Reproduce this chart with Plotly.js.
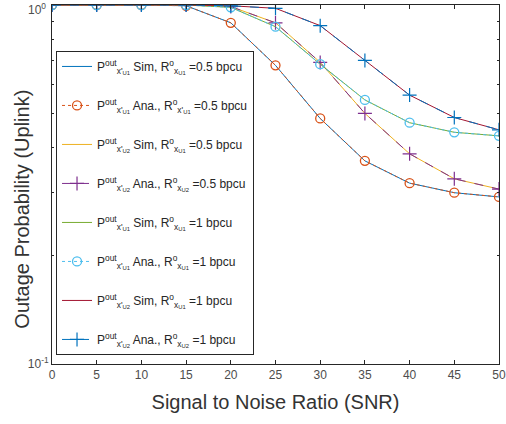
<!DOCTYPE html>
<html>
<head>
<script src="https://cdn.plot.ly/plotly-3.0.1.min.js"></script>
<style>html,body{margin:0;padding:0;background:#fff;}#chart{width:506px;height:424px;}</style>
</head>
<body>
<div id="chart"></div>
<script>
const snr = [0, 5, 10, 15, 20, 25, 30, 35, 40, 45, 50];
const u1Rate05 = [1, 1, 1, 0.995, 0.892, 0.679, 0.483, 0.368, 0.319, 0.300, 0.292];
const u2Rate05 = [1, 1, 1, 1, 0.99, 0.892, 0.692, 0.499, 0.385, 0.328, 0.307];
const u1Rate1 = [1, 1, 1, 1, 0.985, 0.87, 0.684, 0.544, 0.470, 0.442, 0.432];
const u2Rate1 = [1, 1, 1, 1, 0.995, 0.979, 0.876, 0.701, 0.561, 0.486, 0.449];
const legendNames = [
  "P<sup>out</sup><sub>x'<sub>U1</sub></sub> Sim, R<sup>o</sup><sub>x<sub>U1</sub></sub> =0.5 bpcu",
  "P<sup>out</sup><sub>x'<sub>U1</sub></sub> Ana., R<sup>o</sup><sub>x'<sub>U1</sub></sub> =0.5 bpcu",
  "P<sup>out</sup><sub>x'<sub>U2</sub></sub> Sim, R<sup>o</sup><sub>x<sub>U1</sub></sub> =0.5 bpcu",
  "P<sup>out</sup><sub>x'<sub>U2</sub></sub> Ana., R<sup>o</sup><sub>x<sub>U2</sub></sub> =0.5 bpcu",
  "P<sup>out</sup><sub>x'<sub>U1</sub></sub> Sim, R<sup>o</sup><sub>x<sub>U1</sub></sub> =1 bpcu",
  "P<sup>out</sup><sub>x'<sub>U1</sub></sub> Ana., R<sup>o</sup><sub>x<sub>U1</sub></sub> =1 bpcu",
  "P<sup>out</sup><sub>x'<sub>U2</sub></sub> Sim, R<sup>o</sup><sub>x<sub>U1</sub></sub> =1 bpcu",
  "P<sup>out</sup><sub>x'<sub>U2</sub></sub> Ana., R<sup>o</sup><sub>x<sub>U2</sub></sub> =1 bpcu"
];
const xTitle = 'Signal to Noise Ratio (SNR)';
const yTitle = 'Outage Probability (Uplink)';
const yTickVals = [0.1, 1];
const yTickText = ["10<sup>-1</sup>", ""];
const yTopLabel = "10<sup>0</sup>";
const yMinorVals = [0.2, 0.3, 0.4, 0.5, 0.6, 0.7, 0.8, 0.9];

const traces = [
  {x: snr, y: u1Rate05, name: legendNames[0], mode: 'lines', line: {color: '#0072BD', width: 1}},
  {x: snr, y: u1Rate05, name: legendNames[1], mode: 'lines+markers', line: {color: '#D95319', width: 1, dash: 'dot'},
    marker: {symbol: 'circle-open', size: 9, color: '#D95319', line: {width: 1.3}}},
  {x: snr, y: u2Rate05, name: legendNames[2], mode: 'lines', line: {color: '#EDB120', width: 1}},
  {x: snr, y: u2Rate05, name: legendNames[3], mode: 'lines+markers', line: {color: '#7E2F8E', width: 1, dash: 'dash'},
    marker: {symbol: 'cross-thin-open', size: 10, color: '#7E2F8E', line: {width: 1.2, color: '#7E2F8E'}}},
  {x: snr, y: u1Rate1, name: legendNames[4], mode: 'lines', line: {color: '#77AC30', width: 1}},
  {x: snr, y: u1Rate1, name: legendNames[5], mode: 'lines+markers', line: {color: '#4DBEEE', width: 1, dash: 'dot'},
    marker: {symbol: 'circle-open', size: 9, color: '#4DBEEE', line: {width: 1.3}}},
  {x: snr, y: u2Rate1, name: legendNames[6], mode: 'lines', line: {color: '#A2142F', width: 1}},
  {x: snr, y: u2Rate1, name: legendNames[7], mode: 'lines+markers', line: {color: '#0072BD', width: 1, dash: 'dash'},
    marker: {symbol: 'cross-thin-open', size: 10, color: '#0072BD', line: {width: 1.2, color: '#0072BD'}}}
];
traces.forEach((t, i) => { t.legendgroup = 'g' + i; });

const layout = {
  width: 506, height: 424,
  margin: {l: 52, r: 7, t: 5, b: 60},
  paper_bgcolor: '#fff', plot_bgcolor: '#fff',
  font: {family: 'Liberation Sans, Arial, sans-serif', color: '#262626'},
  showlegend: true,
  legend: {x: 0.009, y: 0.872, xanchor: 'left', yanchor: 'top', bgcolor: '#fff', bordercolor: '#262626', borderwidth: 1,
    font: {size: 12, color: '#262626'}, itemwidth: 30, tracegroupgap: 20, valign: 'middle'},
  annotations: [
    {text: yTopLabel, xref: 'paper', yref: 'y', x: 0, y: 0, xanchor: 'right', yanchor: 'top',
      xshift: -4, yshift: 6, showarrow: false, font: {size: 12, color: '#4d4d4d'}},
    {text: yTitle, xref: 'paper', yref: 'paper', x: -0.067, y: 0.43, xanchor: 'center', yanchor: 'middle',
      textangle: -90, showarrow: false, font: {size: 20, color: '#333333'}}
  ],
  xaxis: {
    range: [0, 50], tickmode: 'array', tickvals: [0,5,10,15,20,25,30,35,40,45,50],
    ticks: 'inside', ticklen: 4, tickcolor: '#262626', showgrid: false, zeroline: false,
    showline: true, linecolor: '#262626', linewidth: 1, mirror: 'ticks',
    tickfont: {size: 12, color: '#4d4d4d'}, ticklabeloverflow: 'allow',
    title: {text: xTitle, font: {size: 20, color: '#333333'}, standoff: 13}
  },
  yaxis: {
    type: 'log', range: [-1, 0], tickmode: 'array', tickvals: yTickVals, ticktext: yTickText,
    ticks: 'inside', ticklen: 4, tickcolor: '#262626', showgrid: false, zeroline: false,
    showline: true, linecolor: '#262626', linewidth: 1, mirror: 'ticks',
    tickfont: {size: 12, color: '#4d4d4d'}, ticklabeloverflow: 'allow',
    minor: {tickmode: 'array', tickvals: yMinorVals, ticks: 'inside', ticklen: 2, tickcolor: '#262626', showgrid: false}
  }
};

Plotly.newPlot('chart', traces, layout, {displayModeBar: false, staticPlot: true});
</script>
</body>
</html>
